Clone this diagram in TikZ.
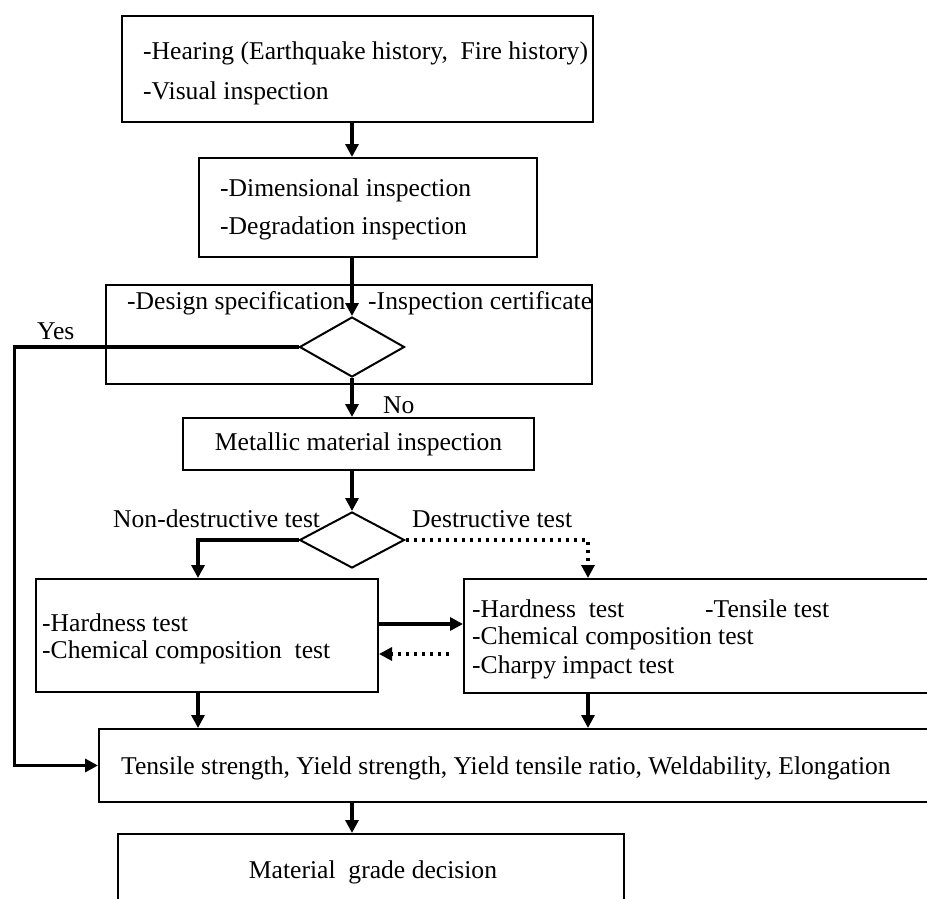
\documentclass[tikz,border=0pt]{standalone}
\usepackage{fontspec}
\setmainfont{Liberation Serif}
\usetikzlibrary{arrows.meta,shapes.geometric,calc}
\begin{document}
\begin{tikzpicture}[x=1pt,y=-1pt,
  box/.style={draw,line width=2pt,rectangle,inner sep=0pt},
  dia/.style={draw,line width=2pt,diamond,aspect=1.75,inner sep=0pt,minimum width=105pt,minimum height=60pt},
  txt/.style={font=\fontsize{25.6}{29}\selectfont,inner sep=0pt,anchor=west},
  arr/.style={line width=3.8pt,-{Triangle[length=13pt,width=13pt]}},
  darr/.style={line width=3.2pt,dash pattern=on 3pt off 5pt,-{Triangle[length=13pt,width=13pt]}}]
\useasboundingbox (0,0) rectangle (927,899);
\fill[white] (0,0) rectangle (927,899);
% columns / rows
\coordinate (colA) at (198,0);
\coordinate (colB) at (588,0);
\coordinate (colM) at (352,0);
\coordinate (rowA) at (0,624);
\coordinate (rowB) at (0,654);
% boxes
\node[box,minimum width=471pt,minimum height=106pt] (b1) at (357.5,69) {};
\node[box,minimum width=338pt,minimum height=99pt] (b2) at (368,207.5) {};
\node[box,minimum width=486pt,minimum height=99pt] (b3) at (349,334.5) {};
\node[dia,fill=white] (d1) at (352,347) {};
\node[box,minimum width=351pt,minimum height=52pt] (b4) at (358.5,444) {};
\node[dia,minimum height=56pt] (d2) at (352,540) {};
\node[box,minimum width=342pt,minimum height=113pt] (b5) at (207,635.5) {};
\node[box,minimum width=480pt,minimum height=114pt] (b6) at (704,636) {};
\node[box,minimum width=845pt,minimum height=73pt] (b7) at (521.5,765.5) {};
\node[box,minimum width=506pt,minimum height=82pt] (b8) at (371,875) {};
% texts
\node[txt] (t1a) at (143,53) {-Hearing (Earthquake history,\ \ Fire history)};
\node[txt] (t1b) at (143,93) {-Visual inspection};
\node[txt] (t2a) at (220,190) {-Dimensional inspection};
\node[txt] (t2b) at (220,228) {-Degradation inspection};
\node[txt] (t3a) at (127,303) {-Design specification};
\node[txt] (t3b) at (368,303) {-Inspection certificate};
\node[txt] (yes) at (37,331) {Yes};
\node[txt] (no) at (383,405) {No};
\node[txt,anchor=center] (t4) at (b4.center) {Metallic material inspection};
\node[txt] (nd) at (113,519) {Non-destructive test};
\node[txt] (de) at (412,519) {Destructive test};
\node[txt] (t5a) at (42,623) {-Hardness test};
\node[txt] (t5b) at (42,652) {-Chemical composition\ \ test};
\node[txt] (t6a) at (472,609) {-Hardness\ \ test};
\node[txt] (t6b) at (705,609) {-Tensile test};
\node[txt] (t6c) at (472,638) {-Chemical composition test};
\node[txt] (t6d) at (472,667) {-Charpy impact test};
\node[txt] (t7) at (121,768) {Tensile strength, Yield strength, Yield tensile ratio, Weldability, Elongation};
\node[txt,anchor=center] (t8) at (373,872) {Material\ \ grade decision};
% connectors
\draw[arr] (b1.south -| colM) -- (b2.north -| colM);
\draw[arr] (b2.south -| colM) -- (d1.north);
\draw[arr] (d1.west) -- ++(-284,0) |- (b7.west);
\draw[arr] (d1.south) -- (b4.north -| colM);
\draw[arr] (b4.south -| colM) -- (d2.north);
\draw[arr] (d2.west) -| (b5.north -| colA);
\draw[darr] (d2.east) -| (b6.north -| colB);
\draw[arr] (b5.east |- rowA) -- (b6.west |- rowA);
\draw[darr,shorten <=14pt] (b6.west |- rowB) -- (b5.east |- rowB);
\draw[arr] (b5.south -| colA) -- (b7.north -| colA);
\draw[arr] (b6.south -| colB) -- (b7.north -| colB);
\draw[arr] (b7.south -| colM) -- (b8.north -| colM);
\end{tikzpicture}
\end{document}
